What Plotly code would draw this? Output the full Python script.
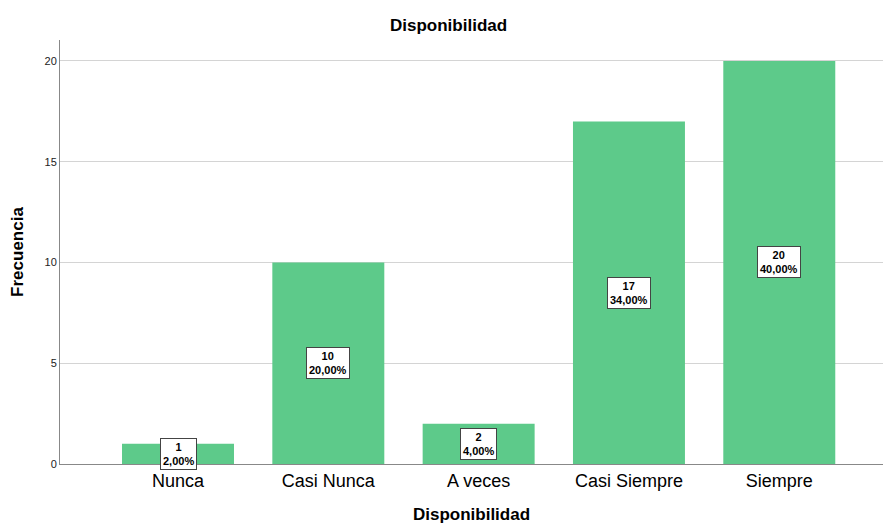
import plotly.graph_objects as go

categories = ["Nunca", "Casi Nunca", "A veces", "Casi Siempre", "Siempre"]
counts = [1, 10, 2, 17, 20]
percents = ["2,00%", "20,00%", "4,00%", "34,00%", "40,00%"]
y_ticks = [0, 5, 10, 15, 20]

fig = go.Figure()
fig.add_trace(go.Bar(
    x=list(range(len(categories))), y=counts, width=0.745,
    marker=dict(color="#5DCA8A", line=dict(width=0)),
    hoverinfo="skip",
))

for i, (c, p) in enumerate(zip(counts, percents)):
    fig.add_annotation(
        x=i, y=c / 2, text=f"<b>{c}<br>{p}</b>", showarrow=False,
        font=dict(family="Liberation Sans, Arial", size=11, color="black"),
        bgcolor="white", bordercolor="#444444", borderwidth=1, borderpad=2,
        align="center",
    )

fig.update_layout(
    width=883, height=524,
    margin=dict(l=60, r=0, t=40, b=60),
    plot_bgcolor="white", paper_bgcolor="white",
    showlegend=False,
    title=dict(text="<b>Disponibilidad</b>", x=0.508, xanchor="center", y=0.952, yanchor="middle",
               font=dict(family="Liberation Sans, Arial", size=17, color="black")),
)
fig.update_xaxes(
    tickmode="array", tickvals=list(range(len(categories))), ticktext=categories,
    range=[-0.785, 4.69],
    showline=True, linecolor="#888888", linewidth=1,
    ticks="", showgrid=False,
    tickfont=dict(family="Liberation Sans, Arial", size=18, color="black"),
    title=dict(text="<b>Disponibilidad</b>", standoff=18,
               font=dict(family="Liberation Sans, Arial", size=17, color="black")),
)
fig.update_yaxes(
    tickvals=y_ticks, range=[0, 21.04],
    showline=True, linecolor="#888888", linewidth=1,
    showgrid=True, gridcolor="#d4d4d4", gridwidth=1,
    zeroline=False, ticks="",
    tickfont=dict(family="Liberation Sans, Arial", size=11, color="#222222"),
    title=dict(text="<b>Frecuencia</b>", standoff=16,
               font=dict(family="Liberation Sans, Arial", size=17, color="black")),
)

fig.write_html("out.html")
